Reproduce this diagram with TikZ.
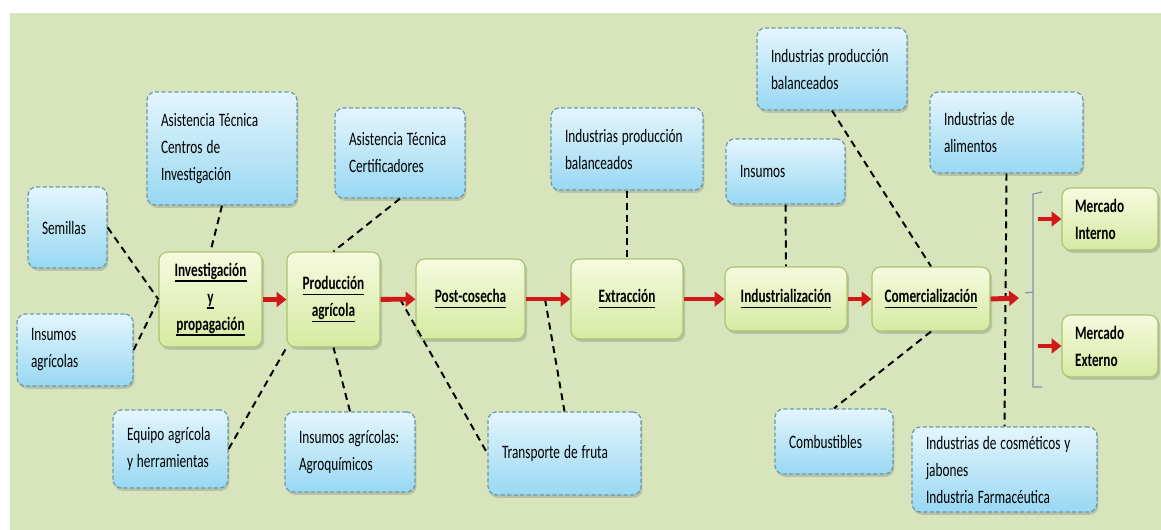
\documentclass[tikz,border=0pt]{standalone}
\usepackage{fontspec}
\setmainfont{Carlito}[FakeStretch=0.7]
\usetikzlibrary{arrows.meta,shadows}

\definecolor{fondo}{HTML}{D8E4BC}
\definecolor{azularriba}{HTML}{E4F5FD}
\definecolor{azulabajo}{HTML}{98D8F2}
\definecolor{azulborde}{HTML}{6A9AAB}
\definecolor{verdearriba}{HTML}{F6FADF}
\definecolor{verdeabajo}{HTML}{D6EAA2}
\definecolor{verdeborde}{HTML}{A9C46E}
\definecolor{flecha}{HTML}{D01818}
\definecolor{llave}{HTML}{7E95AE}

\newlength{\unitpx}
\setlength{\unitpx}{0.025cm}
% thick underline
\newcommand{\subraya}[1]{\setbox0\hbox{#1}\leavevmode\rlap{\rule[-3.8pt]{\wd0}{1.1pt}}\box0}
% narrow text with narrow spaces
\newcommand{\letra}{\fontsize{13.5}{19.2}\selectfont\fontdimen2\font=2.8pt\relax}

\begin{document}
\begin{tikzpicture}[x=0.025cm, y=-0.025cm,
    font=\letra,
    bluebox/.style={draw=azulborde, line width=0.9pt, dash pattern=on 3pt off 1.6pt,
        rounded corners=6pt, top color=azularriba, bottom color=azulabajo,
        align=flush left, inner xsep=14\unitpx, inner ysep=0pt,
        drop shadow={opacity=0.35, shadow xshift=1pt, shadow yshift=-2pt}},
    greenbox/.style={draw=verdeborde, line width=0.8pt, rounded corners=6pt,
        top color=verdearriba, bottom color=verdeabajo, font=\letra\bfseries,
        align=center, inner xsep=6\unitpx, inner ysep=0pt,
        drop shadow={opacity=0.35, shadow xshift=1.5pt, shadow yshift=-2pt}},
    link/.style={draw=black, line width=1.4pt, dash pattern=on 5pt off 3.5pt},
    flowarrow/.style={draw=flecha, line width=3.5pt, -{Triangle[length=7pt,width=10.5pt]}}]

    \useasboundingbox (0,0) rectangle (1161,530);
    \fill[fondo] (10,13) rectangle (1161,530);

    % main chain
    \node[greenbox, text width=91\unitpx, minimum height=95\unitpx] (inv) at (210.5,299.5)
        {\subraya{Investigación}\\ \subraya{y}\\ \subraya{propagación}};
    \node[greenbox, text width=81\unitpx, minimum height=95\unitpx] (prod) at (333.5,299.5)
        {\subraya{Producción}\\ \subraya{agrícola}};
    \node[greenbox, text width=97\unitpx, minimum height=80\unitpx] (post) at (470.5,299) {\subraya{Post-cosecha}};
    \node[greenbox, text width=100\unitpx, minimum height=80\unitpx] (extr) at (627,299) {\subraya{Extracción}};
    \node[greenbox, text width=110\unitpx, minimum height=64\unitpx] (indus) at (786,299) {\subraya{Industrialización}};
    \node[greenbox, text width=106\unitpx, minimum height=64\unitpx] (comer) at (931,299) {\subraya{Comercialización}};

    % markets
    \node[greenbox, align=flush left, inner xsep=13\unitpx, text width=70\unitpx, minimum height=62\unitpx] (mint) at (1110,219)
        {Mercado\\ Interno};
    \node[greenbox, align=flush left, inner xsep=13\unitpx, text width=70\unitpx, minimum height=62\unitpx] (mext) at (1110,346)
        {Mercado\\ Externo};

    % supports, top and left
    \node[bluebox, text width=51\unitpx, minimum height=81\unitpx] (semillas) at (67.5,227.5) {Semillas};
    \node[bluebox, text width=88\unitpx, minimum height=72\unitpx] (insagr) at (75,350) {Insumos\\ agrícolas};
    \node[bluebox, text width=122\unitpx, minimum height=113\unitpx] (astec1) at (222,148.5)
        {Asistencia Técnica\\ Centros de\\ Investigación};
    \node[bluebox, text width=102\unitpx, minimum height=90\unitpx] (astec2) at (400,153)
        {Asistencia Técnica\\ Certificadores};
    \node[bluebox, text width=124\unitpx, minimum height=82\unitpx] (balan1) at (627,149)
        {Industrias producción\\ balanceados};
    \node[bluebox, text width=91\unitpx, minimum height=65\unitpx] (insumos) at (785.5,171.5) {Insumos};
    \node[bluebox, text width=122\unitpx, minimum height=82\unitpx] (balan2) at (832,69)
        {Industrias producción\\ balanceados};
    \node[bluebox, text width=125\unitpx, minimum height=81\unitpx] (alim) at (1006.5,132.5)
        {Industrias de\\ alimentos};

    % supports, bottom
    \node[bluebox, text width=87\unitpx, minimum height=78\unitpx] (equipo) at (170.5,449)
        {Equipo agrícola\\ y herramientas};
    \node[bluebox, text width=102\unitpx, minimum height=80\unitpx] (agroq) at (350,452)
        {Insumos agrícolas:\\ Agroquímicos};
    \node[bluebox, text width=125\unitpx, minimum height=83\unitpx] (transp) at (564.5,453.5) {Transporte de fruta};
    \node[bluebox, text width=90\unitpx, minimum height=65\unitpx] (combus) at (834,441.5) {Combustibles};
    \node[bluebox, text width=157\unitpx, minimum height=85\unitpx] (cosme) at (1004.5,469.5)
        {Industrias de cosméticos y\\ jabones\\ Industria Farmacéutica};

    % points on arrows and bracket
    \coordinate (pp) at (400,299);
    \coordinate (pe) at (545,299);
    \coordinate (brk) at (1019,298);
    \coordinate (bi) at (1038,219);
    \coordinate (be) at (1038,346);

    % dashed links
    \draw[link] (semillas.east) -- (inv.west);
    \draw[link] (insagr.east) -- (inv.west);
    \draw[link] (astec1.south) -- (inv.north);
    \draw[link] (astec2.south) -- (prod.north);
    \draw[link] (equipo.east) -- (prod.south west);
    \draw[link] (agroq.north) -- (prod.south);
    \draw[link] (pp) -- (transp.west);
    \draw[link] (pe) -- (transp.north);
    \draw[link] (balan1.south) -- (extr.north);
    \draw[link] (insumos.south) -- (indus.north);
    \draw[link] (balan2.south) -- (comer.north);
    \draw[link] (comer.south) -- (combus.north);
    \draw[link] (alim.south) -- (cosme.north);

    % bracket
    \draw[llave, line width=0.8pt] (1042,192) -- (1033,194) -- (1033,387) -- (1042,387);
    \draw[llave, line width=0.8pt] (1033,292) -- (1025,293);

    % red arrows
    \draw[flowarrow] (inv) -- (prod);
    \draw[flowarrow] (prod) -- (post);
    \draw[flowarrow] (post) -- (extr);
    \draw[flowarrow] (extr) -- (indus);
    \draw[flowarrow] (indus) -- (comer);
    \draw[flowarrow] (comer.east) -- (brk);
    \draw[flowarrow] (bi) -- (mint.west);
    \draw[flowarrow] (be) -- (mext.west);
\end{tikzpicture}
\end{document}
